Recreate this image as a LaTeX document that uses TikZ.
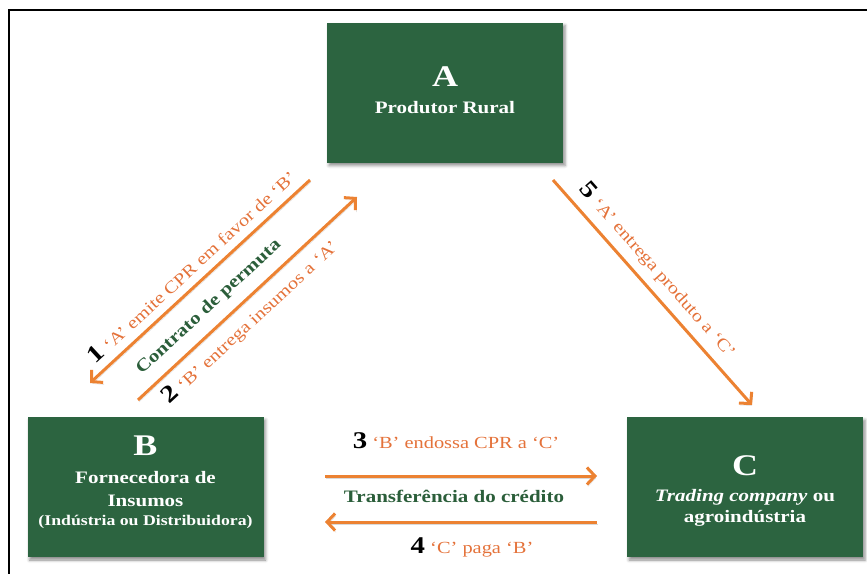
\documentclass[tikz,border=0pt]{standalone}
\usepackage{fontspec}
\setmainfont{Liberation Serif}[FakeStretch=1.2]
\usetikzlibrary{arrows.meta,shadows.blur}
\definecolor{boxgreen}{HTML}{2C6440}
\definecolor{textgreen}{HTML}{2B5E3A}
\definecolor{flowor}{HTML}{EC8232}
\definecolor{labelor}{HTML}{E4723A}
\newcommand\stepnum[1]{{\color{black}\bfseries\fontsize{24}{24}\selectfont #1}}
\begin{document}
\begin{tikzpicture}[x=1pt,y=-1pt,
  actor/.style={fill=boxgreen, draw=none, minimum width=236pt, minimum height=140pt,
    inner sep=0pt, blur shadow={shadow xshift=2pt, shadow yshift=-3pt,
    shadow blur radius=3pt, shadow opacity=45}},
  boxtxt/.style={text=white, anchor=base, inner sep=0pt},
  bigletter/.style={boxtxt, font=\bfseries\fontsize{30}{30}\selectfont},
  boxline/.style={boxtxt, font=\bfseries\fontsize{17.5}{20}\selectfont},
  lbl/.style={text=labelor, inner sep=0pt, font=\fontsize{17}{20}\selectfont},
  grn/.style={text=textgreen, inner sep=0pt, font=\bfseries\fontsize{17.5}{20}\selectfont},
  flow/.style={draw=flowor, line width=3pt, -{Straight Barb[length=8pt,width=17pt]},
    preaction={draw=black!50, opacity=0.3,
      transform canvas={shift={(1pt,-2pt)}}}}]
\useasboundingbox (0,0) rectangle (867,573);

% outer frame
\draw[line width=1.4pt] (9,620) -- (9,10) -- (900,10);

% parties
\node[actor] (A) at (445,92.5) {};
\node[actor] (B) at (145.5,487) {};
\node[actor] (C) at (745,487) {};

\node[bigletter] (Aletter) at (445,86) {A};
\node[boxline] (Aname) at (445,113) {Produtor Rural};

\node[bigletter] (Bletter) at (145.5,455) {B};
\node[boxline] (Bname1) at (145.5,483) {Fornecedora de};
\node[boxline] (Bname2) at (145.5,506) {Insumos};
\node[boxtxt, font=\bfseries\fontsize{14.8}{18}\selectfont] (Bname3) at (145.5,525)
  {(Indústria ou Distribuidora)};

\node[bigletter] (Cletter) at (745,475) {C};
\node[boxline] (Cname1) at (745,501) {\textit{Trading company} ou};
\node[boxline] (Cname2) at (745,522) {agroindústria};

% flow end points
\coordinate (f1s) at (310,180);
\coordinate (f1e) at (90,383);
\coordinate (f2s) at (138,400);
\coordinate (f2e) at (357,197);
\coordinate (f5s) at (553,180);
\coordinate (f5e) at (752,405);
\coordinate (f3s) at (325,476);
\coordinate (f3e) at (597,476);
\coordinate (f4s) at (597,522);
\coordinate (f4e) at (325,522);

\draw[flow] (f1s) -- (f1e);
\draw[flow] (f2s) -- (f2e);
\draw[flow] (f5s) -- (f5e);
\draw[flow] (f3s) -- (f3e);
\draw[flow] (f4s) -- (f4e);

% flow labels
\node[lbl, rotate=42.7] (l1) at (191,266) {\stepnum{1} ‘A’ emite CPR em favor de ‘B’};
\node[grn, rotate=42.7] (permuta) at (209,307) {Contrato de permuta};
\node[lbl, rotate=42.8] (l2) at (250,322) {\stepnum{2} ‘B’ entrega insumos a ‘A’};
\node[lbl, rotate=-48.5] (l5) at (658,270) {\stepnum{5} ‘A’ entrega produto a ‘C’};
\node[lbl, anchor=base] (l3) at (456,448) {\stepnum{3} ‘B’ endossa CPR a ‘C’};
\node[grn, anchor=base] (credito) at (454,502) {Transferência do crédito};
\node[lbl, anchor=base] (l4) at (472,553) {\stepnum{4} ‘C’ paga ‘B’};
\end{tikzpicture}
\end{document}
